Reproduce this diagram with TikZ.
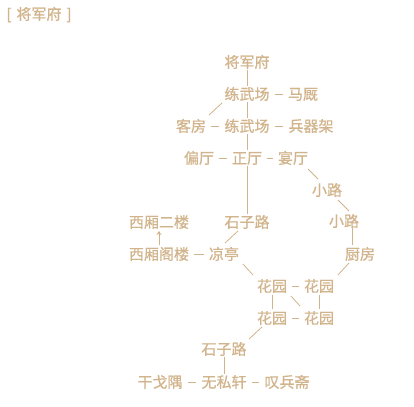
\documentclass[tikz,border=0pt]{standalone}
\usepackage{fontspec}
\newfontfamily\cjk[FakeBold=0.7]{Noto Sans CJK SC}
\usetikzlibrary{arrows.meta}
\definecolor{roomtan}{HTML}{D2B48C}
\begin{document}
\begin{tikzpicture}[x=1pt,y=-1pt,
  room/.style={font=\cjk\fontsize{15}{15}\selectfont, text=roomtan, inner sep=0pt, text height=13.2pt, text depth=1.8pt},
  link/.style={draw=roomtan, line width=0.8pt},
  dashlink/.style={link, shorten <=5pt, shorten >=5pt}]
\fill[white] (0,0) rectangle (414,406);
\useasboundingbox (0,0) rectangle (414,406);

\node[room] (title) at (39,14) {[\hspace{5pt}将军府\hspace{5pt}]};

\node[room] (jjf) at (247,62) {将军府};
\node[room] (lwc1) at (247,94) {练武场};
\node[room] (mj) at (303,94) {马厩};
\node[room] (kf) at (191,126) {客房};
\node[room] (lwc2) at (247,126) {练武场};
\node[room] (bqj) at (311,126) {兵器架};
\node[room] (pt) at (199,158) {偏厅};
\node[room] (zt) at (247,158) {正厅};
\node[room] (yt) at (293,158) {宴厅};
\node[room] (xl1) at (327,190) {小路};
\node[room] (xxel) at (159,222) {西厢二楼};
\node[room] (szl1) at (247,222) {石子路};
\node[room] (xl2) at (344,221) {小路};
\node[room] (xxgl) at (159,254) {西厢阁楼};
\node[room] (lt) at (224,254) {凉亭};
\node[room] (cf) at (360,254) {厨房};
\node[room] (hy1) at (272,286) {花园};
\node[room] (hy2) at (319,286) {花园};
\node[room] (hy3) at (272,318) {花园};
\node[room] (hy4) at (319,318) {花园};
\node[room] (szl2) at (224,349) {石子路};
\node[room] (ggy) at (160,382) {干戈隅};
\node[room] (wsx) at (224,382) {无私轩};
\node[room] (tbz) at (287,382) {叹兵斋};

% horizontal exits
\draw[dashlink] (lwc1.east) -- (mj.west);
\draw[dashlink] (kf.east) -- (lwc2.west);
\draw[dashlink] (lwc2.east) -- (bqj.west);
\draw[dashlink] (pt.east) -- (zt.west);
\draw[dashlink] (zt.east) -- (yt.west);
\draw[dashlink] (xxgl.east) -- (lt.west);
\draw[dashlink] (hy1.east) -- (hy2.west);
\draw[dashlink] (hy3.east) -- (hy4.west);
\draw[dashlink] (ggy.east) -- (wsx.west);
\draw[dashlink] (wsx.east) -- (tbz.west);

% vertical exits
\draw[link] (jjf.south) -- (lwc1.north);
\draw[link] (lwc1.south) -- (lwc2.north);
\draw[link] (lwc2.south) -- (zt.north);
\draw[link] (zt.south) -- (szl1.north);
\draw[link, shorten <=1pt, shorten >=1pt] (hy1.south) -- (hy3.north);
\draw[link, shorten <=1pt, shorten >=1pt] (hy2.south) -- (hy4.north);
\draw[link] (szl2.south) -- (wsx.north);
\draw[link] ([xshift=8pt,yshift=-6pt]xl2.center) -- ([xshift=-8pt,yshift=9pt]cf.center);
\draw[link, -{Stealth[length=4pt,width=5pt]}] ([yshift=9pt]xxgl.center) -- ([yshift=-9pt]xxel.center);

% diagonal exits
\draw[link] ([xshift=-25pt,yshift=-9pt]lwc1.center) -- ([xshift=18pt,yshift=11pt]kf.center);
\draw[link] ([xshift=15pt,yshift=-11pt]yt.center) -- ([xshift=-9pt,yshift=11pt]xl1.center);
\draw[link] ([xshift=11pt,yshift=-10pt]xl1.center) -- ([xshift=5pt,yshift=10pt]xl2.center);
\draw[link] ([xshift=-9pt,yshift=-9pt]szl1.center) -- ([xshift=1pt,yshift=11pt]lt.center);
\draw[link] ([xshift=19pt,yshift=-10pt]lt.center) -- ([xshift=-19pt,yshift=11pt]hy1.center);
\draw[link] ([xshift=-11pt,yshift=-9pt]cf.center) -- ([xshift=19pt,yshift=11pt]hy2.center);
\draw[link] ([xshift=19pt,yshift=-10pt]hy1.center) -- ([xshift=-19pt,yshift=12pt]hy4.center);
\draw[link] ([xshift=-10pt,yshift=-9pt]hy3.center) -- ([xshift=25pt,yshift=10pt]szl2.center);
\end{tikzpicture}
\end{document}
